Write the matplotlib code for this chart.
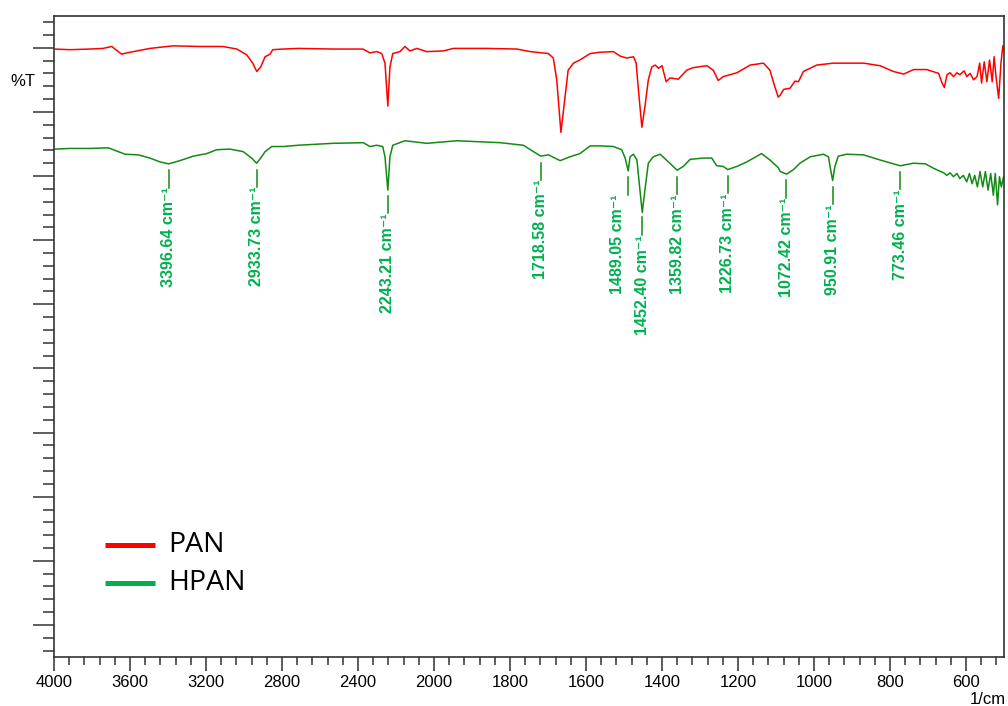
import matplotlib
matplotlib.use("Agg")
import matplotlib.pyplot as plt
import numpy as np
from matplotlib.ticker import FixedLocator, MultipleLocator, NullFormatter

# FTIR spectra, wavenumber (1/cm) vs %T
pan_wn = [3995, 3916, 3811, 3742, 3696, 3679, 3644, 3617, 3565, 3495, 3374, 3232,
          3111, 3038, 2986, 2954, 2933, 2912, 2889, 2863, 2849, 2793, 2714, 2532,
          2374, 2337, 2302, 2275, 2258, 2243, 2232, 2217, 2179, 2153, 2126, 2091,
          2038, 1976, 1949, 1861, 1782, 1747, 1699, 1686, 1677, 1666, 1655, 1647,
          1633, 1616, 1589, 1563, 1528, 1510, 1493, 1475, 1468, 1462, 1453, 1445,
          1436, 1427, 1418, 1409, 1400, 1389, 1379, 1357, 1335, 1318, 1282, 1265,
          1252, 1239, 1203, 1168, 1133, 1116, 1103, 1094, 1089, 1080, 1063, 1050,
          1041, 1028, 993, 949, 869, 826, 791, 764, 738, 703, 672, 663,
          657, 650, 642, 633, 624, 616, 605, 598, 589, 580, 571, 564,
          559, 552, 545, 538, 531, 526, 521, 514, 508, 503, 500]
pan_t = [94.8, 94.7, 94.8, 94.9, 95.2, 94.8, 94.0, 94.2, 94.5, 94.9, 95.3, 95.2,
         95.2, 94.8, 93.9, 92.6, 91.3, 92.0, 93.6, 94.0, 94.7, 94.8, 94.9, 94.8,
         94.8, 94.2, 94.4, 94.1, 92.6, 85.9, 92.0, 94.1, 94.4, 95.2, 94.5, 94.9,
         94.4, 94.5, 94.9, 94.9, 94.8, 94.4, 94.1, 93.4, 90.0, 81.8, 87.4, 91.5,
         92.6, 93.1, 94.1, 94.3, 94.4, 93.7, 93.4, 93.6, 92.6, 88.4, 82.6, 85.8,
         90.0, 92.0, 92.3, 91.8, 92.2, 89.7, 90.3, 90.1, 91.5, 91.9, 92.2, 91.5,
         89.9, 90.5, 91.1, 92.3, 92.6, 91.5, 88.9, 87.3, 87.6, 88.5, 88.7, 89.8,
         89.7, 91.3, 92.3, 92.6, 92.6, 92.2, 91.3, 90.9, 91.6, 91.6, 91.0, 89.5,
         88.8, 90.8, 91.1, 90.5, 91.1, 90.8, 91.4, 90.5, 91.0, 90.0, 90.5, 92.6,
         89.5, 92.8, 89.7, 93.1, 89.7, 93.6, 90.5, 87.1, 92.6, 95.3, 94.7]

hpan_wn = [3995, 3916, 3811, 3714, 3670, 3626, 3556, 3495, 3442, 3397, 3337, 3267,
           3196, 3144, 3074, 3004, 2960, 2934, 2912, 2889, 2854, 2793, 2714, 2532,
           2372, 2337, 2302, 2270, 2258, 2243, 2232, 2217, 2153, 2038, 1940, 1826,
           1765, 1738, 1719, 1699, 1668, 1642, 1616, 1589, 1563, 1528, 1506, 1497,
           1489, 1484, 1475, 1466, 1458, 1452, 1445, 1436, 1423, 1405, 1383, 1360,
           1344, 1326, 1291, 1269, 1256, 1239, 1227, 1203, 1177, 1138, 1116, 1094,
           1089, 1072, 1054, 1037, 1010, 975, 962, 956, 951, 945, 936, 914,
           870, 826, 791, 773, 738, 707, 685, 659, 650, 642, 633, 624,
           616, 607, 598, 591, 584, 577, 570, 563, 556, 549, 542, 535,
           528, 523, 517, 512, 507, 501]
hpan_t = [79.2, 79.3, 79.3, 79.4, 78.9, 78.4, 78.3, 77.8, 77.2, 76.9, 77.4, 78.1,
          78.5, 79.1, 79.2, 78.8, 77.8, 77.0, 77.8, 78.8, 79.6, 79.6, 79.8, 80.1,
          80.2, 79.6, 79.8, 79.6, 78.0, 72.8, 78.0, 79.8, 80.5, 80.1, 80.5, 80.2,
          79.8, 78.8, 78.1, 78.3, 77.4, 78.0, 78.5, 79.7, 79.7, 79.6, 79.1, 77.8,
          75.8, 78.0, 78.4, 77.5, 72.8, 69.3, 72.8, 77.0, 78.0, 78.4, 77.2, 75.9,
          76.5, 77.6, 77.8, 77.8, 76.6, 76.5, 76.0, 76.5, 77.2, 78.5, 77.5, 76.3,
          75.7, 75.3, 76.0, 77.0, 78.0, 78.4, 78.0, 75.9, 74.3, 76.5, 78.1, 78.4,
          78.3, 77.5, 76.9, 76.6, 77.0, 76.9, 76.2, 75.5, 75.1, 75.5, 74.9, 75.4,
          74.6, 75.1, 74.1, 75.4, 73.8, 75.1, 73.3, 75.7, 73.3, 75.7, 72.8, 75.4,
          72.0, 75.4, 70.5, 74.9, 73.3, 74.9]

peaks = [3396.64, 2933.73, 2243.21, 1718.58, 1489.05, 1452.40,
         1359.82, 1226.73, 1072.42, 950.91, 773.46]
series_names = ["PAN", "HPAN"]

x_major = [4000, 3600, 3200, 2800, 2400, 2000, 1800, 1600, 1400, 1200, 1000, 800, 600]


# the instrument plots 4000-2000 at half the scale of 2000-500
def fwd(x):
    x = np.asarray(x, dtype=float)
    return np.where(x > 2000, 2000 + (x - 2000) / 2, x)


def inv(u):
    u = np.asarray(u, dtype=float)
    return np.where(u > 2000, 2000 + (u - 2000) * 2, u)


fig = plt.figure(figsize=(10.08, 7.06), dpi=100)
ax = fig.add_axes([54 / 1008, 49 / 706, 950 / 1008, 641.3 / 706])

ax.plot(pan_wn, pan_t, color="#FF0000", lw=1.1)
ax.plot(hpan_wn, hpan_t, color="#148A14", lw=1.1)

ax.set_xscale("function", functions=(fwd, inv))
ax.set_xlim(4000, 500)
ax.set_ylim(0, 100)

minors = [v for v in list(np.arange(4000, 2000, -80)) + list(np.arange(2000, 499, -40))
          if v not in x_major]
ax.xaxis.set_major_locator(FixedLocator(x_major))
ax.xaxis.set_minor_locator(FixedLocator(minors))
ax.xaxis.set_minor_formatter(NullFormatter())
ax.set_xticklabels([str(v) for v in x_major], fontsize=12, family="Liberation Sans")

ax.yaxis.set_major_locator(MultipleLocator(10, offset=5))
ax.yaxis.set_minor_locator(MultipleLocator(2, offset=1))
ax.set_yticklabels([])

edge = "#333333"
ax.tick_params(axis="x", which="major", length=10, width=1.1, color=edge, pad=3)
ax.tick_params(axis="x", which="minor", length=6, width=1.1, color=edge)
ax.tick_params(axis="y", which="major", length=15, width=1.1, color=edge)
ax.tick_params(axis="y", which="minor", length=8, width=1.1, color=edge)
for side in ["left", "bottom", "right", "top"]:
    ax.spines[side].set_color(edge)
    ax.spines[side].set_linewidth(1.2)

# peak markers under the HPAN curve
asc_wn = hpan_wn[::-1]
asc_t = hpan_t[::-1]
for p in peaks:
    y0 = np.interp(p, asc_wn, asc_t) - 1.0
    y1 = y0 - 2.7
    ax.plot([p, p], [y0, y1], color="#148A14", lw=1.1)
    dx = -8 if p == 1489.05 else 0
    ax.annotate(f"{p:.2f} cm\u207b\u00b9", xy=(p, y1), xytext=(dx, 0),
                textcoords="offset points", rotation=90, ha="center", va="top",
                fontsize=11.5, fontweight="bold", color="#00B050",
                family=["Liberation Sans", "DejaVu Sans"])

# legend drawn by hand to match the instrument export
leg_colors = ["#FF0000", "#00B050"]
leg_y = [0.1746, 0.1154]
for name, c, yy in zip(series_names, leg_colors, leg_y):
    ax.plot([0.0537, 0.1063], [yy, yy], color=c, lw=3.6, transform=ax.transAxes,
            solid_capstyle="butt")
    ax.text(0.12, yy, name, transform=ax.transAxes, fontsize=20.5,
            family="Open Sans", va="center", ha="left")

fig.text(10 / 1008, 1 - 82 / 706, "%T", fontsize=12, family="Liberation Sans",
         ha="left", va="center")
fig.text(1006 / 1008, 1 - 699 / 706, "1/cm", fontsize=12, family="Liberation Sans",
         ha="right", va="center")

fig.savefig("out.png", dpi=100, facecolor="white")
